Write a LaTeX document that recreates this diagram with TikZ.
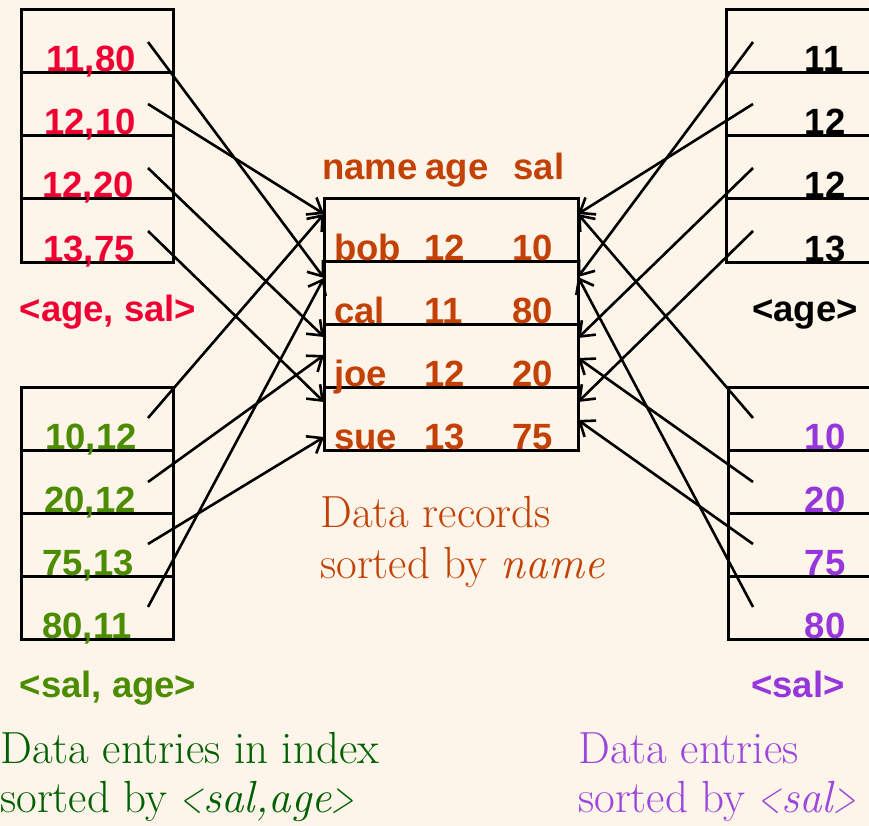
\documentclass[tikz,border=0pt]{standalone}
\usepackage{fontspec}
\usepackage{graphicx}
\setsansfont{Liberation Sans}
\usetikzlibrary{arrows.meta}
\definecolor{bg}{RGB}{253,245,233}
\definecolor{cred}{RGB}{240,0,50}
\definecolor{cgreen}{RGB}{75,140,0}
\definecolor{cpurple}{RGB}{150,55,220}
\definecolor{corange}{RGB}{195,65,5}
\definecolor{dgreen}{RGB}{0,95,0}
\definecolor{lpurple}{RGB}{155,70,220}
\newcommand{\nlt}{\scalebox{0.65}[1]{<}}
\newcommand{\ngt}{\scalebox{0.65}[1]{>}}
\begin{document}
\begin{tikzpicture}[x=1pt,y=-1pt,
  box/.style={line width=3pt,draw=black},
  lab/.style={font=\sffamily\bfseries\fontsize{36.5}{40}\selectfont,inner sep=0pt,anchor=base},
  labw/.style={lab,anchor=base west},
  captxt/.style={font=\fontsize{45}{50}\selectfont,inner sep=0pt,anchor=base west},
  ptr/.style={line width=2.6pt,-{Straight Barb[length=13pt,width=20pt]}},
]
\useasboundingbox (0,0) rectangle (869,826);
\fill[bg] (0,0) rectangle (869,826);

% ---- boxes ----
% left top
\draw[box] (21,10) rectangle (173,262);
\foreach \y in {73,136,199} \draw[box] (21,\y) -- (173,\y);
% left bottom
\draw[box] (21,387) rectangle (173,639);
\foreach \y in {450,513,576} \draw[box] (21,\y) -- (173,\y);
% right top
\draw[box] (880,10) -- (726,10) -- (726,262) -- (880,262);
\foreach \y in {73,136,199} \draw[box] (726,\y) -- (880,\y);
% right bottom
\draw[box] (880,387) -- (728,387) -- (728,639) -- (880,639);
\foreach \y in {450,513,576} \draw[box] (728,\y) -- (880,\y);
% center
\draw[box] (324,199) rectangle (578,450);
\foreach \y in {261.75,324.5,387.25} \draw[box] (324,\y) -- (578,\y);

% ---- left top labels ----
\node[lab,text=cred] (lt1) at (91,72) {11,80};
\node[lab,text=cred] (lt2) at (90,135) {12,10};
\node[lab,text=cred] (lt3) at (88,198) {12,20};
\node[lab,text=cred] (lt4) at (89,261) {13,75};
\node[lab,text=cred] (ltk) at (108,321) {<age, sal>};
% ---- left bottom labels ----
\node[lab,text=cgreen] (lb1) at (91,449) {10,12};
\node[lab,text=cgreen] (lb2) at (90,512) {20,12};
\node[lab,text=cgreen] (lb3) at (88,575) {75,13};
\node[lab,text=cgreen] (lb4) at (87,638) {80,11};
\node[lab,text=cgreen] (lbk) at (108,697) {<sal, age>};
% ---- right top labels ----
\node[lab] (rt1) at (824,72) {11};
\node[lab] (rt2) at (825,135) {12};
\node[lab] (rt3) at (825,198) {12};
\node[lab] (rt4) at (825,261) {13};
\node[lab] (rtk) at (805,321) {<age>};
% ---- right bottom labels ----
\node[lab,text=cpurple] (rb1) at (825,449) {10};
\node[lab,text=cpurple] (rb2) at (825,512) {20};
\node[lab,text=cpurple] (rb3) at (825,575) {75};
\node[lab,text=cpurple] (rb4) at (825,638) {80};
\node[lab,text=cpurple] (rbk) at (798,697) {<sal>};

% ---- center records ----
\node[lab,text=corange] (hn) at (370,180) {name};
\node[lab,text=corange] (ha) at (457,180) {age};
\node[lab,text=corange] (hs) at (539,180) {sal};
\foreach \n/\a/\s/\y/\k in {bob/12/10/260/1,cal/11/80/323/2,joe/12/20/386/3,sue/13/75/449/4}{
  \node[labw,text=corange] (rn\k) at (334,\y) {\n};
  \node[labw,text=corange] (ra\k) at (424,\y) {\a};
  \node[labw,text=corange] (rs\k) at (512,\y) {\s};
}

% ---- captions ----
\node[captxt,text=corange] (c1) at (320,527) {Data records};
\node[captxt,text=corange] (c2) at (320,578) {sorted by \textit{name}};
\node[captxt,text=dgreen] (g1) at (0,763) {Data entries in index};
\node[captxt,text=dgreen] (g2) at (0,812) {sorted by \textit{\nlt sal,age\ngt}};
\node[captxt,text=lpurple] (p1) at (578,763) {Data entries};
\node[captxt,text=lpurple] (p2) at (578,812) {sorted by \textit{\nlt sal\ngt}};

% ---- pointer coordinates ----
\coordinate (sLT1) at (148,42);  \coordinate (sLT2) at (148,104);
\coordinate (sLT3) at (148,168); \coordinate (sLT4) at (148,231);
\coordinate (sLB1) at (148,418); \coordinate (sLB2) at (148,482);
\coordinate (sLB3) at (148,544); \coordinate (sLB4) at (148,607);
\coordinate (sRT1) at (753,42);  \coordinate (sRT2) at (753,104);
\coordinate (sRT3) at (753,168); \coordinate (sRT4) at (753,231);
\coordinate (sRB1) at (753,418); \coordinate (sRB2) at (753,482);
\coordinate (sRB3) at (753,544); \coordinate (sRB4) at (753,607);
\coordinate (eLbob) at (324,214);  \coordinate (eLcal) at (324,278);
\coordinate (eLjoeA) at (324,337); \coordinate (eLjoeB) at (324,355);
\coordinate (eLsueA) at (324,402); \coordinate (eLsueB) at (324,437);
\coordinate (eRbob) at (578,214);  \coordinate (eRcal) at (578,277);
\coordinate (eRjoeA) at (578,338); \coordinate (eRjoeB) at (578,358);
\coordinate (eRsueA) at (578,402); \coordinate (eRsueB) at (578,420);

% ---- pointers ----
\draw[ptr] (sLT1) -- (eLcal);
\draw[ptr] (sLT2) -- (eLbob);
\draw[ptr] (sLT3) -- (eLjoeA);
\draw[ptr] (sLT4) -- (eLsueA);
\draw[ptr] (sLB1) -- (eLbob);
\draw[ptr] (sLB2) -- (eLjoeB);
\draw[ptr] (sLB3) -- (eLsueB);
\draw[ptr] (sLB4) -- (eLcal);
\draw[ptr] (sRT1) -- (eRcal);
\draw[ptr] (sRT2) -- (eRbob);
\draw[ptr] (sRT3) -- (eRjoeA);
\draw[ptr] (sRT4) -- (eRsueA);
\draw[ptr] (sRB1) -- (eRbob);
\draw[ptr] (sRB2) -- (eRjoeB);
\draw[ptr] (sRB3) -- (eRsueB);
\draw[ptr] (sRB4) -- (eRcal);
\end{tikzpicture}
\end{document}
